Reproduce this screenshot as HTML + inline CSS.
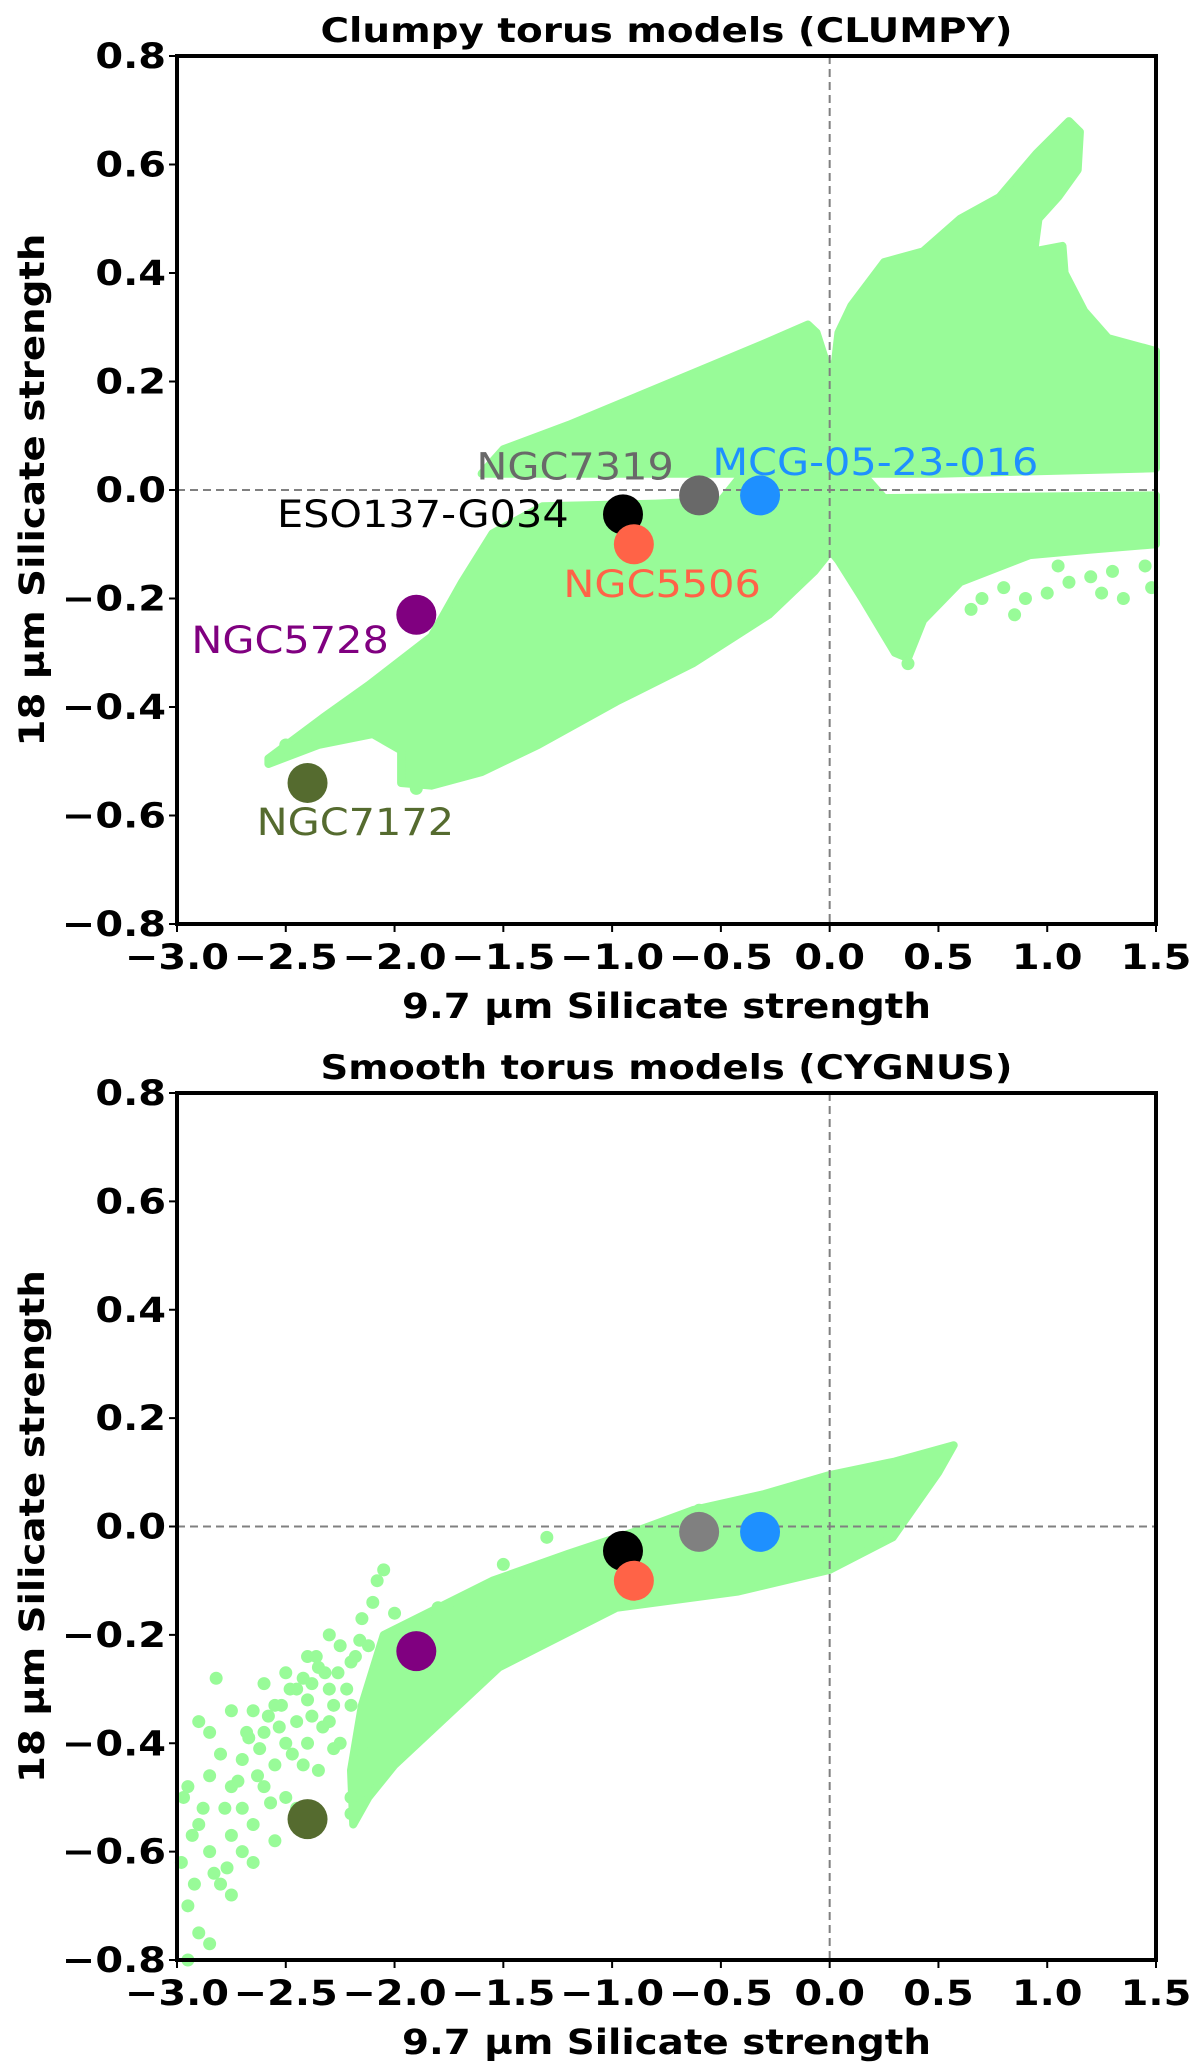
<!DOCTYPE html>
<html><head><meta charset="utf-8"><style>
html,body{margin:0;padding:0;background:#fff}
svg{display:block}
text{font-family:"DejaVu Sans","Liberation Sans",sans-serif}
</style></head><body>
<svg id="fig" width="1200" height="2066" viewBox="0 0 1200 2066" xmlns="http://www.w3.org/2000/svg"></svg>
<script>
// ---- data ----
const xTicks = [-3.0,-2.5,-2.0,-1.5,-1.0,-0.5,0.0,0.5,1.0,1.5];
const yTicks = [0.8,0.6,0.4,0.2,0.0,-0.2,-0.4,-0.6,-0.8];
const sourceNames = ["NGC7172","NGC5728","ESO137-G034","NGC5506","NGC7319","MCG-05-23-016"];
const sil97 = [-2.4,-1.9,-0.95,-0.9,-0.6,-0.32];
const sil18 = [-0.54,-0.23,-0.045,-0.1,-0.01,-0.01];
const labelX = [-2.18,-2.48,-1.87,-0.77,-1.17,0.21];
const labelY = [-0.636,-0.30,-0.068,-0.197,0.019,0.028];
const srcColors = ["#556B2F","#800080","#000000","#FF6347","#696969","#1E90FF"];
const srcColorsBottom = ["#556B2F","#800080","#000000","#FF6347","#808080","#1E90FF"];
// CLUMPY model region outlines (data coords)
const clumpyUpper = [[-1.6,0.03],[-1.5,0.075],[-1.2,0.12],[-0.9,0.17],[-0.6,0.22],[-0.3,0.27],[-0.1,0.305],[-0.06,0.29],[-0.02,0.24],[0.02,0.22],[0.04,0.29],[0.1,0.34],[0.25,0.42],[0.43,0.44],[0.6,0.5],[0.78,0.54],[0.95,0.62],[1.1,0.68],[1.15,0.66],[1.14,0.59],[1.05,0.54],[0.96,0.5],[0.94,0.44],[1.07,0.45],[1.08,0.4],[1.17,0.33],[1.28,0.28],[1.5,0.256],[1.5,0.04],[1.0,0.035],[0.5,0.03],[0.1,0.03],[-0.5,0.03]];
const clumpyLower = [[-2.58,-0.495],[-2.33,-0.42],[-2.12,-0.36],[-1.83,-0.27],[-1.69,-0.17],[-1.55,-0.08],[-1.32,-0.03],[-0.8,-0.025],[-0.5,-0.02],[-0.4,0.03],[0.15,0.03],[0.25,-0.015],[1.5,-0.01],[1.5,-0.1],[1.2,-0.11],[0.92,-0.12],[0.6,-0.17],[0.43,-0.24],[0.36,-0.31],[0.3,-0.3],[0.15,-0.2],[0.04,-0.13],[0,-0.11],[-0.02,-0.125],[-0.07,-0.15],[-0.28,-0.23],[-0.63,-0.32],[-0.98,-0.39],[-1.34,-0.47],[-1.6,-0.52],[-1.83,-0.545],[-1.97,-0.54],[-1.97,-0.48],[-2.1,-0.45],[-2.35,-0.47],[-2.58,-0.505]];
const clumpyDotsX = [0.7,0.8,0.9,1.0,1.1,1.2,1.3,1.35,1.45,1.48,0.85,0.65,1.05,1.25,0.33,0.36,-2.5,-2.4,-1.9];
const clumpyDotsY = [-0.2,-0.18,-0.2,-0.19,-0.17,-0.16,-0.15,-0.2,-0.14,-0.18,-0.23,-0.22,-0.14,-0.19,-0.3,-0.32,-0.47,-0.45,-0.55];
// CYGNUS model region
const cygnusBand = [[-2.05,-0.2],[-1.8,-0.15],[-1.55,-0.1],[-1.2,-0.05],[-0.9,-0.01],[-0.63,0.03],[-0.3,0.06],[0,0.095],[0.3,0.12],[0.57,0.15],[0.5,0.1],[0.29,-0.02],[0,-0.08],[-0.42,-0.12],[-0.98,-0.15],[-1.52,-0.26],[-1.76,-0.35],[-2.0,-0.44],[-2.12,-0.5],[-2.19,-0.55],[-2.2,-0.45],[-2.15,-0.33]];
const cygnusDotsX = [-2.85,-2.9,-2.95,-2.98,-2.8,-2.85,-2.75,-2.7,-2.65,-2.9,-2.95,-2.85,-2.75,-2.8,-2.7,-2.6,-2.55,-2.6,-2.5,-2.45,-2.55,-2.45,-2.5,-2.4,-2.35,-2.3,-2.25,-2.3,-2.2,-2.15,-2.1,-2.05,-2.08,-2.0,-2.6,-2.75,-2.85,-2.65,-2.4,-2.5,-2.65,-2.75,-2.55,-2.95,-2.82,-2.2,-2.25,-1.8,-1.3,-1.5,-0.6,-1.9,-2.0,-2.1,-2.15,-2.2,-2.2,-2.35,-2.45,-2.3,-1.75,-1.65,-2.9,-2.7,-2.4,
  -2.92,-2.88,-2.78,-2.72,-2.68,-2.62,-2.58,-2.52,-2.48,-2.42,-2.38,-2.32,-2.28,-2.22,-2.18,-2.12,-2.38,-2.33,-2.28,-2.42,-2.47,-2.57,-2.63,-2.83,-2.93,-2.97,-2.77,-2.67,-2.53,-2.36,-2.26,-2.16,-2.06,-1.95,-1.85,-1.7,-1.6];
const cygnusDotsY = [-0.77,-0.75,-0.7,-0.62,-0.66,-0.6,-0.57,-0.6,-0.55,-0.55,-0.48,-0.46,-0.48,-0.42,-0.43,-0.48,-0.44,-0.38,-0.4,-0.36,-0.33,-0.3,-0.27,-0.32,-0.26,-0.3,-0.22,-0.2,-0.25,-0.17,-0.14,-0.08,-0.1,-0.16,-0.29,-0.34,-0.38,-0.34,-0.4,-0.5,-0.62,-0.68,-0.58,-0.8,-0.28,-0.33,-0.4,-0.15,-0.02,-0.07,0.03,-0.28,-0.32,-0.4,-0.45,-0.5,-0.53,-0.45,-0.52,-0.36,-0.25,-0.2,-0.36,-0.52,-0.24,
  -0.66,-0.52,-0.52,-0.47,-0.38,-0.41,-0.35,-0.33,-0.3,-0.28,-0.35,-0.27,-0.33,-0.3,-0.24,-0.22,-0.29,-0.37,-0.41,-0.44,-0.42,-0.51,-0.46,-0.64,-0.57,-0.5,-0.63,-0.39,-0.37,-0.24,-0.27,-0.21,-0.26,-0.19,-0.18,-0.15,-0.14];

const NS="http://www.w3.org/2000/svg";
const svg=document.getElementById('fig');
function mk(tag,attrs,parent){const e=document.createElementNS(NS,tag);for(const k in attrs)e.setAttribute(k,attrs[k]);(parent||svg).appendChild(e);return e;}
function txt(parent,x,y,s,attrs,sx,rot){
  const t=mk('text',Object.assign({x:0,y:0,transform:`translate(${x},${y})${rot?' rotate(-90)':''} scale(${sx},1)`},attrs),parent);
  t.textContent=s;return t;
}
const GREEN="#98FB98";

function panel(top,bottom,title,polys,dx,dy,labels,cols,pname){
  const L=177,R=1156;
  const g=mk('g',{});
  
  
  const sx=v=>L+(v+3)/4.5*(R-L);
  const sy=v=>top+(0.8-v)/1.6*(bottom-top);
  const cg=mk('g',{},g);
  
  
  polys.forEach(p=>{
    const e=mk('polygon',{points:p.map(q=>sx(q[0]).toFixed(1)+','+sy(q[1]).toFixed(1)).join(' '),fill:GREEN,stroke:GREEN,'stroke-width':8,'stroke-linejoin':'round'},cg);
    
    
  });
  for(let i=0;i<dx.length;i++){
    const c=mk('circle',{cx:sx(dx[i]),cy:sy(dy[i]),r:6.5,fill:GREEN},cg);
    
    
  }
  const vl=mk('line',{x1:sx(0),x2:sx(0),y1:top,y2:bottom,stroke:'#808080','stroke-width':2,'stroke-dasharray':'8,5'},g);
  
  
  const hl=mk('line',{x1:L,x2:R,y1:sy(0),y2:sy(0),stroke:'#808080','stroke-width':2,'stroke-dasharray':'8,5'},g);
  
  
  for(let i=0;i<sil97.length;i++){
    const c=mk('circle',{cx:sx(sil97[i]),cy:sy(sil18[i]),r:20,fill:cols[i]},g);
    
    
  }
  if(labels){
    for(let i=0;i<sourceNames.length;i++){
      const t=txt(g,sx(labelX[i]),sy(labelY[i]),sourceNames[i],{'text-anchor':'middle','font-size':37,fill:srcColors[i]},1.12);
      
      
    }
  }
  const fr=mk('rect',{x:L,y:top,width:R-L,height:bottom-top,fill:'none',stroke:'#000','stroke-width':4},g);
  
  
  xTicks.forEach(v=>{
    mk('line',{x1:sx(v),x2:sx(v),y1:bottom,y2:bottom+8,stroke:'#000','stroke-width':2},g);
    const t=txt(g,sx(v),bottom+45,(v<0?'\u2212':'')+Math.abs(v).toFixed(1),{'text-anchor':'middle','font-size':35,'font-weight':'bold'},1.14);
    
    
  });
  yTicks.forEach(v=>{
    mk('line',{x1:L-8,x2:L,y1:sy(v),y2:sy(v),stroke:'#000','stroke-width':2},g);
    const t=txt(g,L-11,sy(v)+12,(v<0?'\u2212':'')+Math.abs(v).toFixed(1),{'text-anchor':'end','font-size':35,'font-weight':'bold'},1.14);
    
    
  });
  const tt=mk('text',{x:(L+R)/2,y:top-14,'text-anchor':'middle','font-size':34,'font-weight':'bold',textLength:692,lengthAdjust:'spacingAndGlyphs'},g);
  tt.textContent=title;
  
  
  const xl=mk('text',{x:(L+R)/2,y:bottom+94,'text-anchor':'middle','font-size':35,'font-weight':'bold',textLength:529,lengthAdjust:'spacingAndGlyphs'},g);
  xl.textContent='9.7 \u00b5m Silicate strength';
  
  
  const cy=(top+bottom)/2;
  const yl=mk('text',{x:0,y:0,'text-anchor':'middle','font-size':35,'font-weight':'bold',textLength:513,lengthAdjust:'spacingAndGlyphs',transform:`translate(44,${cy}) rotate(-90)`},g);
  yl.textContent='18 \u00b5m Silicate strength';
  
  
}
panel(56,924,'Clumpy torus models (CLUMPY)',[clumpyUpper,clumpyLower],clumpyDotsX,clumpyDotsY,true,srcColors,'clumpy-panel');
panel(1093,1960,'Smooth torus models (CYGNUS)',[cygnusBand],cygnusDotsX,cygnusDotsY,false,srcColorsBottom,'cygnus-panel');
</script>
</body></html>
